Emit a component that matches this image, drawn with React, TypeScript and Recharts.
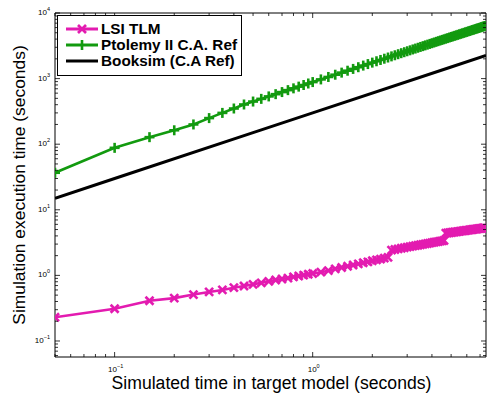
import React from "react";
import {
  ComposedChart,
  Line,
  XAxis,
  YAxis,
  ReferenceLine,
} from "recharts";

const FONT = '"Liberation Sans", Arial, Helvetica, sans-serif';

// simulated time (s) for the two measured series
const simTimes = [
  0.05, 0.1, 0.15, 0.2, 0.25, 0.3, 0.35, 0.4, 0.45, 0.5, 0.55, 0.6, 0.65, 0.7, 0.75, 0.8, 0.85, 0.9, 0.95, 1.0,
  1.1, 1.2, 1.3, 1.4, 1.5, 1.6, 1.7, 1.8, 1.9, 2.0, 2.1, 2.2, 2.3, 2.4, 2.5, 2.6, 2.7, 2.8, 2.9, 3.0,
  3.1, 3.2, 3.3, 3.4, 3.5, 3.6, 3.7, 3.8, 3.9, 4.0, 4.1, 4.2, 4.3, 4.4, 4.5, 4.6, 4.7, 4.8, 4.9, 5.0,
  5.1, 5.2, 5.3, 5.4, 5.5, 5.6, 5.7, 5.8, 5.9, 6.0, 6.1, 6.2, 6.3, 6.4, 6.5, 6.6, 6.7, 6.8, 6.9, 7.0,
  7.1, 7.2, 7.3, 7.4,
];

const lsiTlm = [
  0.23, 0.31, 0.41, 0.45, 0.51, 0.56, 0.6, 0.65, 0.69, 0.73, 0.77, 0.81, 0.85, 0.88, 0.91, 0.95, 0.98, 1.01, 1.04, 1.07,
  1.12, 1.18, 1.26, 1.32, 1.38, 1.44, 1.5, 1.56, 1.61, 1.67, 1.72, 1.77, 1.83, 1.88, 2.43, 2.48, 2.54, 2.59, 2.64, 2.69,
  2.74, 2.79, 2.84, 2.88, 2.93, 2.97, 3.02, 3.06, 3.11, 3.15, 3.2, 3.24, 3.28, 3.32, 3.36, 3.4, 4.4, 4.43, 4.47, 4.5,
  4.54, 4.58, 4.61, 4.65, 4.69, 4.72, 4.76, 4.79, 4.83, 4.86, 4.9, 4.93, 4.97, 5.0, 5.03, 5.07, 5.1, 5.13, 5.16, 5.19,
  5.22, 5.25, 5.28, 5.31,
];

const ptolemy = [
  36.7, 88, 128, 163, 200, 250, 300, 350, 403, 447, 491, 535, 579, 623, 667, 710, 754, 798, 842, 885,
  972, 1059, 1146, 1233, 1319, 1405, 1492, 1579, 1665, 1752, 1838, 1924, 2010, 2096, 2182, 2268, 2354, 2440, 2525, 2611,
  2697, 2782, 2868, 2953, 3039, 3124, 3209, 3294, 3379, 3464, 3549, 3634, 3719, 3804, 3889, 3974, 4058, 4143, 4228, 4313,
  4397, 4482, 4566, 4651, 4735, 4820, 4904, 4989, 5073, 5158, 5242, 5326, 5410, 5495, 5579, 5663, 5747, 5831, 5915, 5999,
  6083, 6167, 6251, 6335,
];

const booksimTimes = [0.05, 0.1, 0.5, 1, 5, 7.5];
const booksim = [15, 30, 150, 300, 1500, 2250];

const xMajor = [0.1, 1];
const yMajor = [0.1, 1, 10, 100, 1000, 10000];
const xDomain: [number, number] = [0.05, 7.5];
const yDomain: [number, number] = [0.057, 10000];

const lsiData = simTimes.map((x, i) => ({ x, y: lsiTlm[i] }));
const ptolemyData = simTimes.map((x, i) => ({ x, y: ptolemy[i] }));
const booksimData = booksimTimes.map((x, i) => ({ x, y: booksim[i] }));

const minorTicks = (majors: number[], lo: number, hi: number) => {
  const out: number[] = [];
  [majors[0] / 10, ...majors].forEach((m) => {
    for (let k = 1; k <= 9; k++) {
      const v = +(m * k).toPrecision(6);
      if (v >= lo && v <= hi) out.push(v);
    }
  });
  return out;
};

const W = 487;
const H = 394;
const MARGIN = { top: 13, right: 1, left: 0, bottom: 0 };
const Y_AXIS_W = 55;
const X_AXIS_H = 37;
const PLOT_TOP = MARGIN.top;
const PLOT_RIGHT = W - MARGIN.right;

const PINK = "#e31bb0";
const GREEN = "#129a0f";

const expLabel = (v: number) => {
  const e = Math.round(Math.log10(v));
  return e < 0 ? "\u2212" + Math.abs(e) : String(e);
};

function YTick(props: any) {
  const { x, y, payload } = props;
  const major = yMajor.includes(payload.value);
  const len = major ? 5 : 3;
  return (
    <g>
      <line x1={x} x2={x + len} y1={y} y2={y} stroke="#000" strokeWidth={0.8} />
      <line x1={PLOT_RIGHT} x2={PLOT_RIGHT - len} y1={y} y2={y} stroke="#000" strokeWidth={0.8} />
      {major && (
        <text x={x - 5} y={y + 2} textAnchor="end" fontSize={8} fontFamily={FONT} fill="#000">
          10
          <tspan dy={-4} fontSize={5.5}>
            {expLabel(payload.value)}
          </tspan>
        </text>
      )}
    </g>
  );
}

function XTick(props: any) {
  const { x, y, payload } = props;
  const major = xMajor.includes(payload.value);
  const len = major ? 5 : 3;
  return (
    <g>
      <line x1={x} x2={x} y1={y} y2={y - len} stroke="#000" strokeWidth={0.8} />
      <line x1={x} x2={x} y1={PLOT_TOP} y2={PLOT_TOP + len} stroke="#000" strokeWidth={0.8} />
      {major && (
        <text x={x + 1} y={y + 15} textAnchor="middle" fontSize={8} fontFamily={FONT} fill="#000">
          10
          <tspan dy={-4} fontSize={5.5}>
            {expLabel(payload.value)}
          </tspan>
        </text>
      )}
    </g>
  );
}

function CrossDot(props: any) {
  const { cx, cy, index } = props;
  if (cx == null || cy == null) return <g key={index} />;
  const s = 4;
  return (
    <g key={index}>
      <line x1={cx - s} y1={cy - s} x2={cx + s} y2={cy + s} stroke={PINK} strokeWidth={2.6} />
      <line x1={cx - s} y1={cy + s} x2={cx + s} y2={cy - s} stroke={PINK} strokeWidth={2.6} />
    </g>
  );
}

function PlusDot(props: any) {
  const { cx, cy, index } = props;
  if (cx == null || cy == null) return <g key={index} />;
  const s = 5;
  return (
    <g key={index}>
      <line x1={cx - s} y1={cy} x2={cx + s} y2={cy} stroke={GREEN} strokeWidth={2.6} />
      <line x1={cx} y1={cy - s} x2={cx} y2={cy + s} stroke={GREEN} strokeWidth={2.6} />
    </g>
  );
}

const legendItems = [
  { label: "LSI TLM", color: PINK, marker: "x" },
  { label: "Ptolemy II C.A. Ref", color: GREEN, marker: "+" },
  { label: "Booksim (C.A Ref)", color: "#000", marker: "" },
];

function LegendBox() {
  return (
    <div
      style={{
        position: "absolute",
        left: 57,
        top: 15,
        width: 185,
        height: 61,
        border: "1px solid #000",
        background: "#fff",
        boxSizing: "border-box",
        paddingTop: 5,
      }}
    >
      {legendItems.map((it) => (
        <div key={it.label} style={{ display: "flex", alignItems: "center", height: 16 }}>
          <svg width={42} height={16} style={{ flex: "none" }}>
            <line x1={8} x2={40} y1={8} y2={8} stroke={it.color} strokeWidth={3} />
            {it.marker === "x" && (
              <g stroke={it.color} strokeWidth={2.6}>
                <line x1={20} y1={4} x2={28} y2={12} />
                <line x1={20} y1={12} x2={28} y2={4} />
              </g>
            )}
            {it.marker === "+" && (
              <g stroke={it.color} strokeWidth={2.6}>
                <line x1={24} y1={3} x2={24} y2={13} />
              </g>
            )}
          </svg>
          <span
            style={{
              fontFamily: FONT,
              fontWeight: "bold",
              fontSize: 15.3,
              lineHeight: "16px",
              marginLeft: 1,
              color: "#000",
              whiteSpace: "nowrap",
            }}
          >
            {it.label}
          </span>
        </div>
      ))}
    </div>
  );
}

export default function App() {
  const xTicks = minorTicks(xMajor, xDomain[0], xDomain[1]);
  const yTicks = minorTicks(yMajor, yDomain[0], yDomain[1]);

  return (
    <div style={{ position: "absolute", left: 0, top: 0, width: W, height: H, background: "#fff" }}>
      <ComposedChart width={W} height={H} margin={MARGIN}>
        <XAxis
          dataKey="x"
          type="number"
          scale="log"
          domain={xDomain}
          allowDataOverflow
          ticks={xTicks}
          interval={0}
          tickSize={0}
          tickMargin={0}
          tickLine={false}
          tick={<XTick />}
          height={X_AXIS_H}
          stroke="#000"
          label={{
            content: (p: any) => {
              const vb = p.viewBox || { x: Y_AXIS_W, y: H - X_AXIS_H, width: W - Y_AXIS_W, height: X_AXIS_H };
              return (
                <text x={vb.x + vb.width / 2 + 1} y={vb.y + 32} textAnchor="middle" fontSize={17.6} fontFamily={FONT} fill="#000">
                  Simulated time in target model (seconds)
                </text>
              );
            },
          }}
        />
        <YAxis
          dataKey="y"
          type="number"
          scale="log"
          domain={yDomain}
          allowDataOverflow
          ticks={yTicks}
          interval={0}
          tickSize={0}
          tickMargin={0}
          tickLine={false}
          tick={<YTick />}
          width={Y_AXIS_W}
          stroke="#000"
          label={{
            content: (p: any) => {
              const vb = p.viewBox || { x: 0, y: PLOT_TOP, width: Y_AXIS_W, height: H - X_AXIS_H - PLOT_TOP };
              const cx = vb.x + 19;
              const cy = vb.y + vb.height / 2;
              return (
                <text
                  x={cx}
                  y={cy}
                  transform={`rotate(-90 ${cx} ${cy})`}
                  textAnchor="middle"
                  dominantBaseline="central"
                  fontSize={17.4}
                  fontFamily={FONT}
                  fill="#000"
                >
                  Simulation execution time (seconds)
                </text>
              );
            },
          }}
        />
        <ReferenceLine y={yDomain[1]} stroke="#000" strokeWidth={1} />
        <ReferenceLine x={xDomain[1]} stroke="#000" strokeWidth={1} />
        <Line
          data={booksimData}
          dataKey="y"
          stroke="#000"
          strokeWidth={3}
          dot={false}
          isAnimationActive={false}
        />
        <Line
          data={ptolemyData}
          dataKey="y"
          stroke={GREEN}
          strokeWidth={2.6}
          dot={(p: any) => <PlusDot {...p} key={p.index} />}
          isAnimationActive={false}
        />
        <Line
          data={lsiData}
          dataKey="y"
          stroke={PINK}
          strokeWidth={2.6}
          dot={(p: any) => <CrossDot {...p} key={p.index} />}
          isAnimationActive={false}
        />
      </ComposedChart>
      <LegendBox />
    </div>
  );
}
